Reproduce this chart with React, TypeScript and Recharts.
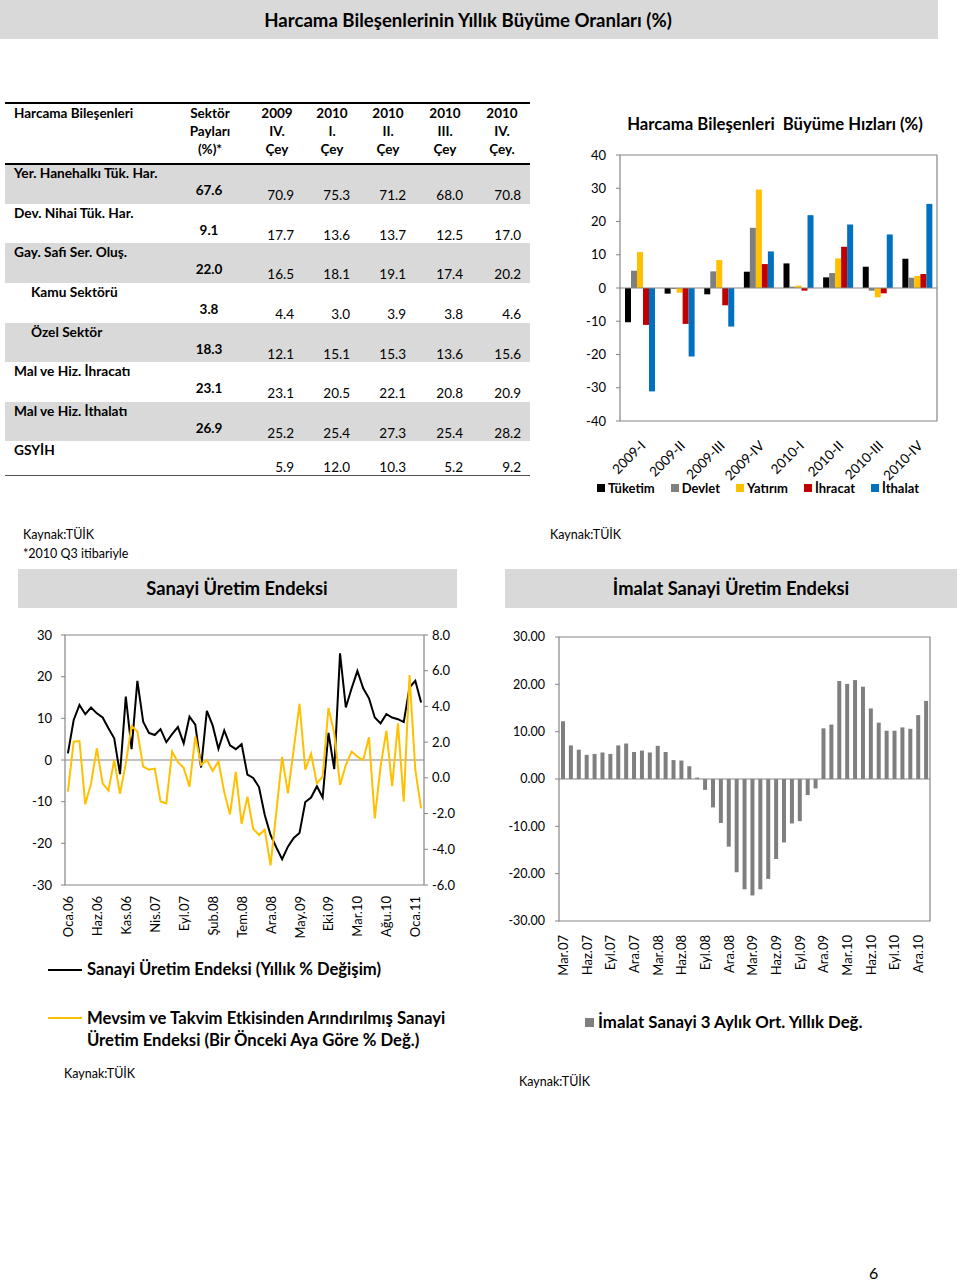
import React from 'react';
import {
  Bar,
  BarChart,
  Line,
  LineChart,
  ReferenceArea,
  ReferenceLine,
  XAxis,
  YAxis,
} from 'recharts';

const FONT = 'Lato, "Noto Sans", sans-serif';
const GRID = '#868686';
const BAND = '#d9d9d9';
const C_BLACK = '#000000';
const C_GRAY = '#7f7f7f';
const C_YELLOW = '#ffc000';
const C_RED = '#c00000';
const C_BLUE = '#0070c0';

// ---- tablo: harcama bileşenleri
const colHeads = [
  ['2009', 'IV.', 'Çey'],
  ['2010', 'I.', 'Çey'],
  ['2010', 'II.', 'Çey'],
  ['2010', 'III.', 'Çey'],
  ['2010', 'IV.', 'Çey.'],
];
const rowLabels = [
  'Yer. Hanehalkı Tük. Har.',
  'Dev. Nihai Tük. Har.',
  'Gay. Safi Ser. Oluş.',
  'Kamu Sektörü',
  'Özel Sektör',
  'Mal ve Hiz. İhracatı',
  'Mal ve Hiz. İthalatı',
  'GSYİH',
];
const rowIndented = [false, false, false, true, true, false, false, false];
const sectorShares = ['67.6', '9.1', '22.0', '3.8', '18.3', '23.1', '26.9', ''];
const q2009IV = ['70.9', '17.7', '16.5', '4.4', '12.1', '23.1', '25.2', '5.9'];
const q2010I = ['75.3', '13.6', '18.1', '3.0', '15.1', '20.5', '25.4', '12.0'];
const q2010II = ['71.2', '13.7', '19.1', '3.9', '15.3', '22.1', '27.3', '10.3'];
const q2010III = ['68.0', '12.5', '17.4', '3.8', '13.6', '20.8', '25.4', '5.2'];
const q2010IV = ['70.8', '17.0', '20.2', '4.6', '15.6', '20.9', '28.2', '9.2'];
const quarterCols = [q2009IV, q2010I, q2010II, q2010III, q2010IV];

// ---- büyüme hızları (%)
const quarters = ['2009-I', '2009-II', '2009-III', '2009-IV', '2010-I', '2010-II', '2010-III', '2010-IV'];
const tuketim = [-10.3, -1.7, -1.9, 4.9, 7.4, 3.2, 6.4, 8.8];
const devlet = [5.2, -0.3, 5.0, 18.1, 0.4, 4.5, -0.8, 3.1];
const yatirim = [10.8, -1.4, 8.4, 29.6, 0.7, 8.9, -2.8, 3.6];
const ihracat = [-11.1, -10.8, -5.2, 7.2, -0.8, 12.4, -1.6, 4.2];
const ithalat = [-31.1, -20.6, -11.6, 11.0, 21.9, 19.1, 16.1, 25.3];

// ---- sanayi üretim endeksi, Oca.06 - Şub.11
const trMonths = ['Oca', 'Şub', 'Mar', 'Nis', 'May', 'Haz', 'Tem', 'Ağu', 'Eyl', 'Eki', 'Kas', 'Ara'];
const sueYillik = [
  1.6, 9.6, 13.2, 11.0, 12.6, 11.2, 10.2, 7.6, 5.2, -3.4, 15.2, 2.6,
  19.0, 9.2, 6.5, 6.0, 7.4, 4.3, 6.2, 7.9, 4.0, 10.4, 8.5, -1.8,
  11.8, 8.3, 2.7, 7.1, 3.5, 2.6, 3.8, -3.5, -4.3, -6.5, -13.2, -18.0,
  -21.0, -23.8, -20.8, -18.7, -17.5, -10.1, -9.0, -6.3, -9.0, 6.5, -2.2, 25.6,
  12.6, 17.2, 21.4, 17.2, 14.8, 10.2, 8.8, 11.0, 10.2, 9.8, 9.1, 17.4,
  19.0, 13.8,
];
const sueAylik = [
  -0.77, 2.03, 2.06, -1.48, -0.31, 1.65, -0.31, -0.72, 1.0, -0.9, 0.81, 2.9,
  2.59, 0.63, 0.46, 0.52, -1.32, -1.43, 1.47, 0.88, 0.56, -0.49, 2.32, 0.72,
  1.0, 0.39, 0.92, -0.8, -2.05, 0.33, -2.58, -1.05, -2.85, -3.2, -2.9, -4.9,
  -1.9, 1.17, -0.87, 1.6, 4.15, 0.46, 1.35, -0.31, 0.07, 3.92, 2.49, -0.4,
  0.72, 1.47, 1.19, 1.0, 2.27, -2.27, 0.63, 2.64, -0.46, 3.05, -1.33, 5.76,
  0.44, -1.71,
];

// ---- imalat sanayi 3 aylık ort. yıllık değ., Mar.07 - Oca.11
const imalat = [
  12.2, 7.1, 6.2, 5.1, 5.3, 5.6, 5.3, 7.1, 7.5, 5.7, 6.0, 5.6,
  7.0, 5.7, 4.0, 3.9, 2.7, 0.3, -2.3, -6.0, -9.3, -14.3, -19.7, -23.3,
  -24.6, -23.3, -21.1, -16.9, -13.4, -9.4, -8.9, -3.4, -2.0, 10.7, 11.5, 20.7,
  20.1, 20.9, 19.5, 14.9, 11.9, 10.2, 10.2, 10.9, 10.6, 13.5, 16.5,
];

const monthLabel = (startMonth: number, startYear: number, i: number) => {
  const k = startMonth + i;
  const yy = startYear + Math.floor(k / 12);
  return `${trMonths[k % 12]}.${String(yy).padStart(2, '0')}`;
};

const growthRows = quarters.map((q, i) => ({
  q,
  tuketim: tuketim[i],
  devlet: devlet[i],
  yatirim: yatirim[i],
  ihracat: ihracat[i],
  ithalat: ithalat[i],
}));
const sueRows = sueYillik.map((v, i) => ({ m: monthLabel(0, 6, i), yillik: v, aylik: sueAylik[i] }));
const imalatRows = imalat.map((v, i) => ({ m: monthLabel(2, 7, i), v }));

function T({ x, y, children, size = 13, bold = false, align = 'left', style }: any) {
  const tx = align === 'center' ? '-50%' : align === 'right' ? '-100%' : '0';
  return (
    <div
      style={{
        position: 'absolute',
        left: x,
        top: y,
        transform: `translate(${tx}, -50%)`,
        fontSize: size,
        fontWeight: bold ? 700 : 400,
        whiteSpace: 'nowrap',
        lineHeight: 1.2,
        ...style,
      }}
    >
      {children}
    </div>
  );
}

const DiagTick = ({ x, y, payload }: any) => {
  const ax = x + 3;
  const ay = y + 22;
  return (
    <text
      x={ax}
      y={ay}
      transform={`rotate(-45 ${ax} ${ay})`}
      textAnchor="end"
      dominantBaseline="central"
      fontSize={13.5}
      fontFamily={FONT}
      fill="#000"
    >
      {payload.value}
    </text>
  );
};

const makeVTick = (dy: number) => ({ x, y, payload }: any) => (
  <text
    x={x}
    y={y + dy}
    transform={`rotate(-90 ${x} ${y + dy})`}
    textAnchor="end"
    dominantBaseline="central"
    fontSize={13}
    fontFamily={FONT}
    fill="#000"
  >
    {payload.value}
  </text>
);
const VTickLeft = makeVTick(11);
const VTickRight = makeVTick(14);

const Sq = ({ color, size = 8 }: { color: string; size?: number }) => (
  <span style={{ display: 'inline-block', width: size, height: size, background: color, marginRight: 3 }} />
);

function Table() {
  const rowTops = [164, 204, 243, 283, 323, 362, 402, 441, 475];
  const colCenters = [277, 332, 388, 445, 502];
  const colRights = [294, 350, 406, 463, 521];
  return (
    <>
      {rowLabels.map((_, i) =>
        i % 2 === 0 ? (
          <div
            key={'b' + i}
            style={{
              position: 'absolute',
              left: 5,
              top: rowTops[i],
              width: 525,
              height: rowTops[i + 1] - rowTops[i],
              background: BAND,
            }}
          />
        ) : null,
      )}
      <div style={{ position: 'absolute', left: 5, top: 102, width: 525, height: 2, background: '#000' }} />
      <div style={{ position: 'absolute', left: 5, top: 163, width: 525, height: 2, background: '#000' }} />
      <div style={{ position: 'absolute', left: 5, top: 475, width: 525, height: 1, background: '#555' }} />
      <T x={14} y={113} bold size={13.5}>Harcama Bileşenleri</T>
      {['Sektör', 'Payları', '(%)*'].map((s, j) => (
        <T key={s} x={210} y={113 + j * 18} bold size={13.5} align="center">{s}</T>
      ))}
      {colHeads.map((h, c) =>
        h.map((s, j) => (
          <T key={c + '-' + j} x={colCenters[c]} y={113 + j * 18} bold size={13.5} align="center">{s}</T>
        )),
      )}
      {rowLabels.map((lab, i) => {
        const top = rowTops[i];
        const h = rowTops[i + 1] - top;
        const vy = top + Math.min(31, h - 8);
        return (
          <React.Fragment key={lab}>
            <T x={rowIndented[i] ? 31 : 14} y={top + 9} bold size={13.7}>{lab}</T>
            {sectorShares[i] && <T x={209} y={top + 26} bold size={13.5} align="center">{sectorShares[i]}</T>}
            {quarterCols.map((col, c) => (
              <T key={c} x={colRights[c]} y={vy} align="right" size={13.5}>{col[i]}</T>
            ))}
          </React.Fragment>
        );
      })}
    </>
  );
}

function GrowthChart() {
  const series = [
    { key: 'tuketim', name: 'Tüketim', color: C_BLACK },
    { key: 'devlet', name: 'Devlet', color: C_GRAY },
    { key: 'yatirim', name: 'Yatırım', color: C_YELLOW },
    { key: 'ihracat', name: 'İhracat', color: C_RED },
    { key: 'ithalat', name: 'İthalat', color: C_BLUE },
  ];
  return (
    <>
      <T x={775} y={124} bold size={16.7} align="center">Harcama Bileşenleri&nbsp; Büyüme Hızları (%)</T>
      <div style={{ position: 'absolute', left: 585, top: 140 }}>
        <BarChart
          width={360}
          height={349}
          data={growthRows}
          margin={{ top: 15, right: 8, bottom: 0, left: 0 }}
          barGap={0}
        >
          <ReferenceArea y1={-40} y2={40} fill="none" stroke={GRID} strokeWidth={1.2} />
          <XAxis
            dataKey="q"
            interval={0}
            height={68}
            axisLine={false}
            tickLine={false}
            tickSize={0}
            tickMargin={0}
            tick={<DiagTick />}
          />
          <YAxis
            domain={[-40, 40]}
            ticks={[-40, -30, -20, -10, 0, 10, 20, 30, 40]}
            width={35}
            axisLine={false}
            tickSize={4}
            tickMargin={10}
            tickLine={{ stroke: GRID }}
            tick={{ fontSize: 13, fill: '#000', fontFamily: FONT }}
          />
          <ReferenceLine y={0} stroke={GRID} strokeWidth={1.2} />
          {series.map((s) => (
            <Bar key={s.key} dataKey={s.key} fill={s.color} barSize={6} isAnimationActive={false} />
          ))}
        </BarChart>
      </div>
      <div
        style={{
          position: 'absolute',
          left: 597,
          top: 488,
          transform: 'translateY(-50%)',
          display: 'flex',
          alignItems: 'center',
          gap: 16,
          fontSize: 13,
          fontWeight: 700,
          whiteSpace: 'nowrap',
        }}
      >
        {series.map((s) => (
          <span key={s.key} style={{ display: 'flex', alignItems: 'center' }}>
            <Sq color={s.color} />
            {s.name}
          </span>
        ))}
      </div>
    </>
  );
}

function SanayiChart() {
  return (
    <>
      <div style={{ position: 'absolute', left: 18, top: 569, width: 439, height: 39, background: BAND }} />
      <T x={237} y={589} bold size={18.3} align="center">Sanayi Üretim Endeksi</T>
      <div style={{ position: 'absolute', left: 30, top: 625 }}>
        <LineChart width={439} height={320} data={sueRows} margin={{ top: 10, right: 0, bottom: 0, left: 0 }}>
          <ReferenceArea yAxisId="l" y1={-30} y2={30} fill="none" stroke={GRID} strokeWidth={1.2} />
          <XAxis
            dataKey="m"
            scale="band"
            interval={4}
            height={60}
            axisLine={false}
            tickLine={false}
            tickSize={0}
            tickMargin={0}
            tick={<VTickLeft />}
          />
          <YAxis
            yAxisId="l"
            domain={[-30, 30]}
            ticks={[-30, -20, -10, 0, 10, 20, 30]}
            width={35}
            axisLine={false}
            tickSize={4}
            tickMargin={9}
            tickLine={{ stroke: GRID }}
            tick={{ fontSize: 13, fill: '#000', fontFamily: FONT }}
          />
          <YAxis
            yAxisId="r"
            orientation="right"
            domain={[-6, 8]}
            ticks={[-6, -4, -2, 0, 2, 4, 6, 8]}
            tickFormatter={(v: number) => v.toFixed(1)}
            width={45}
            axisLine={false}
            tickSize={4}
            tickMargin={4}
            tickLine={{ stroke: GRID }}
            tick={{ fontSize: 13, fill: '#000', fontFamily: FONT }}
          />
          <ReferenceLine yAxisId="l" y={0} stroke={GRID} strokeWidth={1.2} />
          <Line
            yAxisId="l"
            dataKey="yillik"
            stroke={C_BLACK}
            strokeWidth={2}
            dot={false}
            isAnimationActive={false}
          />
          <Line
            yAxisId="r"
            dataKey="aylik"
            stroke={C_YELLOW}
            strokeWidth={2}
            dot={false}
            isAnimationActive={false}
          />
        </LineChart>
      </div>
      <div style={{ position: 'absolute', left: 48, top: 969, width: 34, height: 2, background: C_BLACK }} />
      <T x={87} y={970} bold size={16.6}>Sanayi Üretim Endeksi (Yıllık % Değişim)</T>
      <div style={{ position: 'absolute', left: 48, top: 1017, width: 34, height: 2, background: C_YELLOW }} />
      <T x={87} y={1018} bold size={16.7}>Mevsim ve Takvim Etkisinden Arındırılmış Sanayi</T>
      <T x={87} y={1040} bold size={16.7}>Üretim Endeksi (Bir Önceki Aya Göre % Değ.)</T>
      <T x={64} y={1073} size={12.5}>Kaynak:TÜİK</T>
    </>
  );
}

function ImalatChart() {
  return (
    <>
      <div style={{ position: 'absolute', left: 505, top: 569, width: 452, height: 39, background: BAND }} />
      <T x={731} y={589} bold size={18.3} align="center">İmalat Sanayi Üretim Endeksi</T>
      <div style={{ position: 'absolute', left: 505, top: 627 }}>
        <BarChart width={433} height={354} data={imalatRows} margin={{ top: 10, right: 8, bottom: 0, left: 0 }}>
          <ReferenceArea y1={-30} y2={30} fill="none" stroke={GRID} strokeWidth={1.2} />
          <XAxis
            dataKey="m"
            interval={2}
            height={60}
            axisLine={false}
            tickLine={false}
            tickSize={0}
            tickMargin={0}
            tick={<VTickRight />}
          />
          <YAxis
            domain={[-30, 30]}
            ticks={[-30, -20, -10, 0, 10, 20, 30]}
            tickFormatter={(v: number) => v.toFixed(2)}
            width={54}
            axisLine={false}
            tickSize={4}
            tickMargin={10}
            tickLine={{ stroke: GRID }}
            tick={{ fontSize: 12.5, fill: '#000', fontFamily: FONT }}
          />
          <ReferenceLine y={0} stroke={GRID} strokeWidth={1.2} />
          <Bar dataKey="v" fill={C_GRAY} barSize={4} isAnimationActive={false} />
        </BarChart>
      </div>
      <div style={{ position: 'absolute', left: 585, top: 1018, width: 9, height: 9, background: C_GRAY }} />
      <T x={598} y={1022} bold size={16.8}>İmalat Sanayi 3 Aylık Ort. Yıllık Değ.</T>
      <T x={519} y={1081} size={12.5}>Kaynak:TÜİK</T>
    </>
  );
}

export default function App() {
  return (
    <div
      style={{
        position: 'absolute',
        left: 0,
        top: 0,
        width: 960,
        height: 1282,
        background: '#fff',
        fontFamily: FONT,
        color: '#000',
        overflow: 'hidden',
      }}
    >
      <div style={{ position: 'absolute', left: 0, top: 0, width: 938, height: 39, background: BAND }} />
      <T x={468} y={20} bold size={18.6} align="center">Harcama Bileşenlerinin Yıllık Büyüme Oranları (%)</T>
      <Table />
      <GrowthChart />
      <T x={23} y={534} size={12.5}>Kaynak:TÜİK</T>
      <T x={23} y={553} size={12.5}>*2010 Q3 itibariyle</T>
      <T x={550} y={534} size={12.5}>Kaynak:TÜİK</T>
      <SanayiChart />
      <ImalatChart />
      <T x={869} y={1273} size={16}>6</T>
    </div>
  );
}
